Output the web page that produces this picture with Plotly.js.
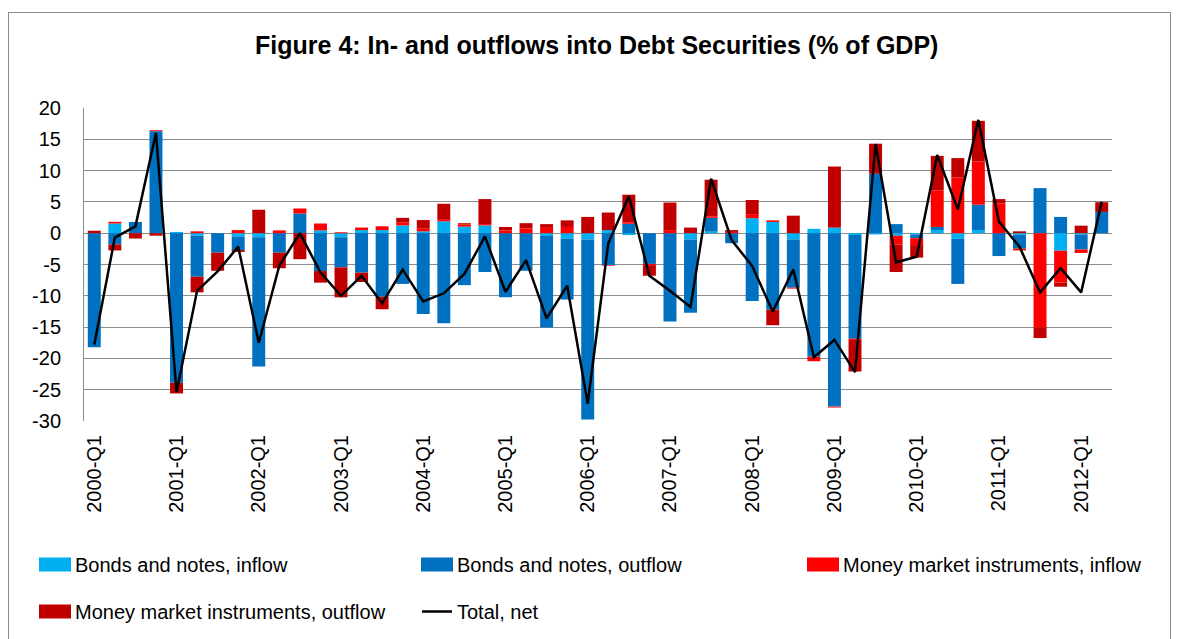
<!DOCTYPE html>
<html>
<head>
<meta charset="utf-8">
<script src="https://cdn.plot.ly/plotly-3.0.1.min.js"></script>
<style>
  html, body { margin: 0; padding: 0; background: #ffffff; }
  #wrap { position: relative; width: 1177px; height: 639px; overflow: hidden; }
  #chart { position: absolute; left: 0; top: 0; width: 1177px; height: 639px; }
  #frame { position: absolute; left: 8px; top: 12px; width: 1163px; height: 640px;
           border: 1px solid #8c8c8c; pointer-events: none; box-sizing: border-box; }
  #chart path.legendbar { d: path("M16,7H-16V-7H16Z"); }
</style>
</head>
<body>
<div id="wrap">
  <div id="chart"></div>
  <div id="frame"></div>
</div>
<script>
// Quarters 2000-Q1 .. 2012-Q2
const years = [2000,2001,2002,2003,2004,2005,2006,2007,2008,2009,2010,2011,2012];
const quarters = [];
years.forEach(y => { for (let q = 1; q <= 4; q++) { if (y === 2012 && q > 2) break; quarters.push(y + '-Q' + q); } });
const tickLabels = ['2000-Q1','2001-Q1','2002-Q1','2003-Q1','2004-Q1','2005-Q1','2006-Q1','2007-Q1','2008-Q1','2009-Q1','2010-Q1','2011-Q1','2012-Q1'];
const yTickValues = [20, 15, 10, 5, 0, -5, -10, -15, -20, -25, -30];
const yTickText = ['20', '15', '10', '5', '0', '-5', '-10', '-15', '-20', '-25', '-30'];

// Series values (% of GDP)
const bondsInflow = [0, 1.55, 0, 0, 0.2, -0.4, 0, -0.6, -0.65, 0,
  0, 0.45, -0.65, 0.5, 0.5, 1.25, 0.3, 1.9, 1.05, 1.25,
  0, 0, -0.45, -0.9, -1.0, 0.5, -0.3, 0, 0, -1.0,
  0.25, 0, 2.4, 1.8, -1.0, 0.7, 0.9, -0.3, -0.2, -0.4,
  -0.2, 0.5, -0.9, 0.5, 0, -0.25, 0, -2.8, -0.2, 0];
const bondsOutflow = [-18.2, -1.8, 1.8, 16.3, -23.9, -6.55, -3.1, -2.1, -20.65, -3.1,
  3.15, -6.05, -4.8, -6.3, -10.15, -8.1, -12.9, -14.4, -8.3, -6.2,
  -10.25, -6.0, -14.6, -9.7, -28.75, -5.1, 1.5, -4.9, -14.1, -11.7,
  2.2, -1.6, -10.85, -12.2, -7.7, -19.75, -27.7, -16.55, 9.5, 1.45,
  -0.6, 0.5, -7.2, 4.05, -3.65, -2.2, 7.2, 2.6, -2.4, 3.4];
const mmInflow = [0, 0.27, 0, 0.15, 0, 0.3, 0, 0.5, 0, 0.45,
  0.8, 1.1, 0.15, 0.4, 0.6, 0.5, 0.5, 0.35, 0.35, 0.2,
  0.45, 0.75, 0.85, 1.0, 0, -0.1, 0.25, -0.2, 0.5, 0,
  0.25, 0.2, 0.65, 0.25, -0.15, -0.7, -0.15, -0.2, 0, -1.4,
  -1.1, 5.85, 8.9, 6.9, 4.75, -0.3, -15.05, -5.1, -0.55, 0];
const mmOutflow = [0.4, -0.95, -0.85, -0.4, -1.7, -2.5, -2.9, -0.3, 3.75, -2.5,
  -4.15, -1.85, -4.8, -1.5, -2.0, 0.7, 1.3, 2.45, 0.2, 4.0,
  0.55, 0.85, 0.6, 1.05, 2.6, 2.8, 4.4, -1.7, 4.4, 0.9,
  5.85, 0.3, 2.25, -2.5, 2.8, 0, 9.75, -5.05, 4.8, -4.4,
  -2.0, 5.5, 3.1, 6.5, 0.7, 0.3, -1.7, -0.65, 1.2, 1.55];
const totalNet = [-17.8, -0.7, 1.1, 16.0, -25.4, -9.2, -6.1, -2.15, -17.5, -5.2,
  0.0, -6.25, -10.0, -6.8, -11.2, -5.8, -10.9, -9.6, -6.5, -0.55,
  -9.35, -4.3, -13.6, -8.4, -27.2, -1.6, 5.9, -6.8, -9.2, -11.8,
  8.7, -1.1, -5.25, -12.5, -5.8, -19.8, -17.05, -22.2, 14.25, -4.65,
  -3.75, 12.5, 3.8, 18.1, 1.85, -2.15, -9.45, -5.6, -9.45, 5.0];

const seriesNames = ['Bonds and notes, inflow', 'Bonds and notes, outflow',
  'Money market instruments, inflow', 'Money market instruments, outflow', 'Total, net'];
const colors = ['#00B0F0', '#0070C0', '#FF0000', '#C00000', '#000000'];

const FONT = 'Liberation Sans, Arial, sans-serif';
const barData = [bondsInflow, bondsOutflow, mmInflow, mmOutflow];
const legendIds = ['legend', 'legend2', 'legend3', 'legend4', 'legend5'];

const traces = barData.map((vals, i) => ({
  type: 'bar', x: quarters, y: vals, name: seriesNames[i],
  marker: { color: colors[i], line: { width: 0 } },
  legend: legendIds[i], hoverinfo: 'skip'
}));
traces.push({
  type: 'scatter', mode: 'lines', x: quarters, y: totalNet, name: seriesNames[4],
  line: { color: colors[4], width: 2.5 }, legend: legendIds[4], hoverinfo: 'skip'
});

function legendAt(left, top) {
  return {
    orientation: 'h', xref: 'container', yref: 'container',
    xanchor: 'left', yanchor: 'top', x: left / 1177, y: 1 - top / 639,
    font: { family: FONT, size: 20, color: '#000' }, bgcolor: 'rgba(0,0,0,0)',
    borderwidth: 0
  };
}

const layout = {
  width: 1177, height: 639,
  margin: { l: 84, r: 65, t: 108, b: 218 },
  paper_bgcolor: '#ffffff', plot_bgcolor: '#ffffff',
  font: { family: FONT, size: 20, color: '#000' },
  title: {
    text: '<b>Figure 4: In- and outflows into Debt Securities (% of GDP)</b>',
    font: { family: FONT, size: 25, color: '#000' },
    x: 0.507, xref: 'container', xanchor: 'center',
    y: 1 - 45 / 639, yref: 'container', yanchor: 'middle'
  },
  barmode: 'relative', bargap: 0.37,
  showlegend: true,
  legend: legendAt(35, 545),
  legend2: legendAt(417, 545),
  legend3: legendAt(803, 545),
  legend4: legendAt(35, 592),
  legend5: legendAt(417, 592),
  xaxis: {
    type: 'category', categoryorder: 'array', categoryarray: quarters,
    tickmode: 'array', tickvals: tickLabels, ticktext: tickLabels,
    tickangle: -90, ticks: '', showgrid: false, zeroline: false, showline: false,
    ticklabelstandoff: 9,
    tickfont: { family: FONT, size: 20, color: '#000' }
  },
  yaxis: {
    range: [-30, 20], tickmode: 'array', tickvals: yTickValues, ticktext: yTickText,
    showgrid: true, gridcolor: '#8c8c8c', gridwidth: 1,
    zeroline: false, showline: true, linecolor: '#8c8c8c', linewidth: 1,
    ticks: '', ticklabelstandoff: 18,
    tickfont: { family: FONT, size: 20, color: '#000' }
  },
  hovermode: false
};

function widenSymbols() {
  document.querySelectorAll('#chart .legendpoints path').forEach(p => {
    const d = p.getAttribute('d') || '';
    if (d.indexOf('M6,6H-6V-6H6Z') === 0) p.setAttribute('d', 'M16,7H-16V-7H16Z');
  });
}

Plotly.newPlot('chart', traces, layout, { staticPlot: true, displayModeBar: false }).then(() => {
  widenSymbols();
  setTimeout(widenSymbols, 50);
  setTimeout(widenSymbols, 300);
});
</script>
</body>
</html>
